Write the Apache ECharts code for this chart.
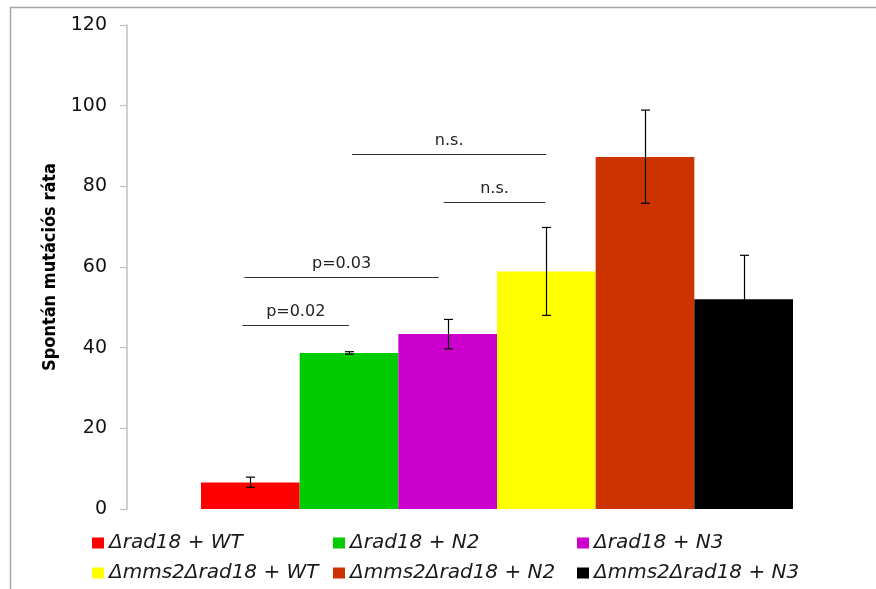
<!DOCTYPE html>
<html>
<head>
<meta charset="utf-8">
<title>Spontán mutációs ráta</title>
<script src="https://cdn.jsdelivr.net/npm/echarts@6/dist/echarts.min.js"></script>
<style>
  html, body { margin: 0; padding: 0; background: #fff; }
  #chart { width: 876px; height: 589px; }
</style>
</head>
<body>
<div id="chart"></div>
<script>
// Strain groups, one bar each
const strains = [
  'Δrad18 + WT',
  'Δrad18 + N2',
  'Δrad18 + N3',
  'Δmms2Δrad18 + WT',
  'Δmms2Δrad18 + N2',
  'Δmms2Δrad18 + N3'
];
// Mean spontaneous mutation rate per strain
const rates = [6.6, 38.7, 43.4, 58.9, 87.3, 52.0];
// Lower / upper ends of the error bars
const errLow = [5.4, 38.4, 39.7, 48.0, 75.8, 41.1];
const errHigh = [7.9, 39.0, 47.0, 69.8, 98.9, 62.9];
// Bar colours
const colors = ['#ff0000', '#00cc00', '#cc00cc', '#ffff00', '#cc3300', '#000000'];
// Y axis ticks
const yTicks = { min: 0, max: 120, step: 20 };
// Significance brackets: [from bar, to bar, height, text]
const brackets = [
  [-0.08, 1.0, 45.5, 'p=0.02'],
  [-0.06, 1.91, 57.5, 'p=0.03'],
  [1.03, 3.0, 88.0, 'n.s.'],
  [1.96, 2.99, 76.1, 'n.s.']
];

const chart = echarts.init(document.getElementById('chart'));

const barSeries = strains.map((name, i) => ({
  name: name,
  type: 'bar',
  xAxisIndex: 0,
  yAxisIndex: 0,
  barGap: '0%',
  barCategoryGap: '20%',
  itemStyle: { color: colors[i] },
  data: [rates[i]],
  z: 2
}));

const errorSeries = {
  type: 'custom',
  xAxisIndex: 1,
  yAxisIndex: 0,
  z: 5,
  silent: true,
  data: strains.map((_, i) => [i, errLow[i], errHigh[i]]),
  renderItem: function (params, api) {
    const x = api.value(0);
    const lo = api.coord([x, api.value(1)]);
    const hi = api.coord([x, api.value(2)]);
    const cx = Math.round(lo[0]) + 0.5;
    const cap = 4.5;
    const style = { stroke: '#000', lineWidth: 1.2 };
    return {
      type: 'group',
      children: [
        { type: 'line', shape: { x1: cx, y1: hi[1], x2: cx, y2: lo[1] }, style: style },
        { type: 'line', shape: { x1: cx - cap, y1: hi[1], x2: cx + cap, y2: hi[1] }, style: style },
        { type: 'line', shape: { x1: cx - cap, y1: lo[1], x2: cx + cap, y2: lo[1] }, style: style }
      ]
    };
  }
};

const bracketSeries = {
  type: 'custom',
  xAxisIndex: 1,
  yAxisIndex: 0,
  z: 6,
  silent: true,
  data: brackets,
  renderItem: function (params, api) {
    const b = brackets[params.dataIndex];
    const p1 = api.coord([b[0], b[2]]);
    const p2 = api.coord([b[1], b[2]]);
    const y = Math.round(p1[1]) + 0.5;
    return {
      type: 'group',
      children: [
        { type: 'line', shape: { x1: p1[0], y1: y, x2: p2[0], y2: y },
          style: { stroke: '#333', lineWidth: 1.2 } },
        { type: 'text', x: (p1[0] + p2[0]) / 2, y: y - 6,
          style: { text: b[3], fill: '#222', font: '16px "DejaVu Sans", sans-serif',
                   textAlign: 'center', textVerticalAlign: 'bottom' } }
      ]
    };
  }
};

// One legend block per strain, laid out in a 3 x 2 grid
const legendCols = [92, 333, 577];
const legendRows = [533, 563];
const legends = strains.map((name, i) => ({
  data: [name],
  left: legendCols[i % 3],
  top: legendRows[Math.floor(i / 3)],
  padding: 0,
  icon: 'rect',
  itemWidth: 12,
  itemHeight: 11,
  selectedMode: false,
  textStyle: {
    fontFamily: '"DejaVu Sans", sans-serif',
    fontStyle: 'italic',
    fontSize: 20,
    lineHeight: 20,
    color: '#1a1a1a'
  }
}));

chart.setOption({
  animation: false,
  backgroundColor: '#ffffff',
  grid: { left: 127, right: 9, top: 25, bottom: 80, containLabel: false },
  legend: legends,
  xAxis: [
    {
      type: 'category',
      data: [''],
      axisLine: { show: false },
      axisTick: { show: false },
      axisLabel: { show: false }
    },
    {
      type: 'value',
      min: -1.25,
      max: 6.25,
      show: false
    }
  ],
  yAxis: {
    type: 'value',
    min: yTicks.min,
    max: yTicks.max,
    interval: yTicks.step,
    name: 'Spontán mutációs ráta',
    nameLocation: 'middle',
    nameRotate: 90,
    nameGap: 68,
    nameTextStyle: {
      fontFamily: '"DejaVu Sans Condensed", sans-serif',
      fontWeight: 'bold',
      fontSize: 18,
      color: '#000'
    },
    axisLine: { show: true, onZero: false, lineStyle: { color: '#bfbfbf', width: 1.5 } },
    axisTick: { show: true, length: 7, lineStyle: { color: '#bfbfbf', width: 1.2 } },
    splitLine: { show: false },
    axisLabel: {
      margin: 20,
      fontFamily: '"DejaVu Sans", sans-serif',
      fontSize: 19,
      color: '#111'
    }
  },
  graphic: [
    { type: 'line', shape: { x1: 10, y1: 7.5, x2: 876, y2: 7.5 },
      style: { stroke: '#a6a6a6', lineWidth: 1.5 } },
    { type: 'line', shape: { x1: 10.5, y1: 7, x2: 10.5, y2: 589 },
      style: { stroke: '#a6a6a6', lineWidth: 1.5 } }
  ],
  series: barSeries.concat([errorSeries, bracketSeries])
});
</script>
</body>
</html>
